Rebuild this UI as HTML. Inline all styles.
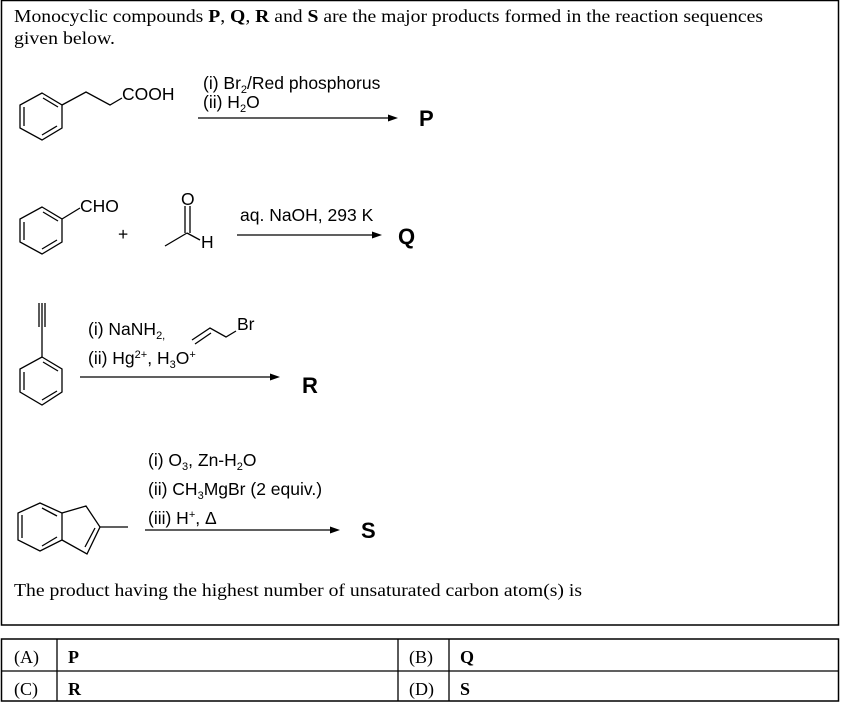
<!DOCTYPE html>
<html><head><meta charset="utf-8"><style>
body{margin:0;background:#fff;width:861px;height:706px;overflow:hidden}
svg{display:block}
.t{font-family:"Liberation Serif",serif;font-size:18px}
.s{font-family:"Liberation Sans",sans-serif;font-size:17.5px}
.b{font-family:"Liberation Sans",sans-serif;font-size:22px;font-weight:bold}
</style></head><body>
<svg width="861" height="706" viewBox="0 0 861 706" xmlns="http://www.w3.org/2000/svg">
<g fill="none" stroke="#000" stroke-width="1.3">
<rect x="1.5" y="0.5" width="837" height="624.5" stroke-width="1.5"/>
<rect x="1.5" y="639" width="837" height="62" stroke-width="1.5"/>
<line x1="1.5" y1="671" x2="838.5" y2="671"/>
<line x1="57" y1="639" x2="57" y2="701"/>
<line x1="398" y1="639" x2="398" y2="701"/>
<line x1="449" y1="639" x2="449" y2="701"/>
<polygon points="42,93 62,105 62,128 42,140 20,128 20,105"/>
<line x1="43" y1="98" x2="58" y2="107"/><line x1="24" y1="107" x2="24" y2="126"/><line x1="42" y1="135" x2="57" y2="126"/>
<polyline points="62,105 86,92 110,105 122,98"/>
<line x1="198" y1="118" x2="392" y2="118"/>
<polygon points="42,207 62,219 62,242 42,254 20,242 20,219"/>
<line x1="43" y1="212" x2="58" y2="221"/><line x1="42" y1="249" x2="57" y2="240"/><line x1="24" y1="222" x2="24" y2="240"/>
<line x1="62" y1="219" x2="80" y2="208"/>
<line x1="165" y1="246" x2="187" y2="233"/>
<line x1="185" y1="206" x2="185" y2="233"/><line x1="190" y1="206" x2="190" y2="233"/>
<line x1="187" y1="233" x2="200" y2="240"/>
<line x1="237" y1="235" x2="376" y2="235"/>
<polygon points="42,357 62,369 62,392 42,405 20,392 20,369"/>
<line x1="43" y1="362" x2="58" y2="371"/><line x1="42" y1="400" x2="57" y2="391"/><line x1="24" y1="372" x2="24" y2="390"/>
<line x1="42" y1="327" x2="42" y2="357"/>
<line x1="39" y1="303" x2="39" y2="327"/><line x1="42" y1="303" x2="42" y2="327"/><line x1="45" y1="303" x2="45" y2="327"/>
<polyline points="192,340 210,328 226,337 236,331"/><line x1="195" y1="344" x2="211" y2="333"/>
<line x1="80" y1="377" x2="274" y2="377"/>
<polygon points="40,503 62,513 62,540 40,551 18,540 18,513"/>
<line x1="42" y1="508" x2="57" y2="516"/><line x1="22" y1="515" x2="22" y2="538"/><line x1="42" y1="546" x2="57" y2="537"/>
<polyline points="62,513 86,506 100,527 87,554 62,540"/>
<line x1="95" y1="528" x2="85" y2="547"/>
<line x1="100" y1="527" x2="128" y2="527"/>
<line x1="145" y1="530" x2="334" y2="530"/>
</g>
<g fill="#000">
<polygon points="398,118 388,114.5 388,121.5"/>
<polygon points="382,235 372,231.5 372,238.5"/>
<polygon points="280,377 270,373.5 270,380.5"/>
<polygon points="340,530 330,526.5 330,533.5"/>
</g>
<text class="t" x="14" y="22" textLength="749" lengthAdjust="spacingAndGlyphs">Monocyclic compounds <tspan font-weight="bold">P</tspan>, <tspan font-weight="bold">Q</tspan>, <tspan font-weight="bold">R</tspan> and <tspan font-weight="bold">S</tspan> are the major products formed in the reaction sequences</text>
<text class="t" x="14" y="44" textLength="101" lengthAdjust="spacingAndGlyphs">given below.</text>
<text class="s" x="122" y="100">COOH</text>
<text class="s" x="203" y="89">(i) Br<tspan font-size="11" dy="4">2</tspan><tspan dy="-4">/Red phosphorus</tspan></text>
<text class="s" x="203" y="108">(ii) H<tspan font-size="11" dy="4">2</tspan><tspan dy="-4">O</tspan></text>
<text class="b" x="419" y="126">P</text>
<text class="s" x="80" y="212">CHO</text>
<text class="s" x="118" y="240">+</text>
<text class="s" x="181" y="205">O</text>
<text class="s" x="201" y="248">H</text>
<text class="s" x="240" y="221">aq. NaOH, 293 K</text>
<text class="b" x="398" y="244">Q</text>
<text class="s" x="88" y="335">(i) NaNH<tspan font-size="11" dy="4">2,</tspan></text>
<text class="s" x="237" y="330">Br</text>
<text class="s" x="88" y="364">(ii) Hg<tspan font-size="11" dy="-6">2+</tspan><tspan dy="6">, H</tspan><tspan font-size="11" dy="4">3</tspan><tspan dy="-4">O</tspan><tspan font-size="11" dy="-6">+</tspan></text>
<text class="b" x="302" y="393">R</text>
<text class="s" x="148" y="466">(i) O<tspan font-size="11" dy="4">3</tspan><tspan dy="-4">, Zn-H</tspan><tspan font-size="11" dy="4">2</tspan><tspan dy="-4">O</tspan></text>
<text class="s" x="148" y="495">(ii) CH<tspan font-size="11" dy="4">3</tspan><tspan dy="-4">MgBr (2 equiv.)</tspan></text>
<text class="s" x="148" y="524">(iii)  H<tspan font-size="11" dy="-6">+</tspan><tspan dy="6">, Δ</tspan></text>
<text class="b" x="361" y="538">S</text>
<text class="t" x="14" y="596" textLength="568" lengthAdjust="spacingAndGlyphs">The product having the highest number of unsaturated carbon atom(s) is</text>
<text class="t" x="14" y="663">(A)</text><text class="t" x="68" y="663" font-weight="bold">P</text>
<text class="t" x="409" y="663">(B)</text><text class="t" x="460" y="663" font-weight="bold">Q</text>
<text class="t" x="14" y="695">(C)</text><text class="t" x="68" y="695" font-weight="bold">R</text>
<text class="t" x="409" y="695">(D)</text><text class="t" x="460" y="695" font-weight="bold">S</text>
</svg>
</body></html>
